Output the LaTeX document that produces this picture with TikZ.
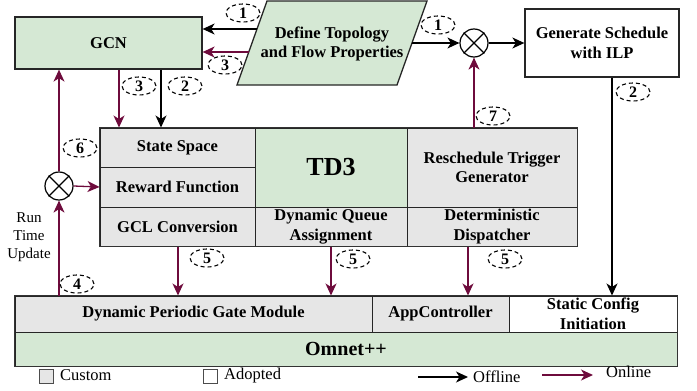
\documentclass[tikz,border=0pt]{standalone}
\usepackage{fontspec}
\setmainfont{Liberation Serif}
\usetikzlibrary{arrows.meta,shapes.geometric}
\definecolor{grn}{HTML}{D5E8D4}
\definecolor{gry}{HTML}{E6E6E6}
\definecolor{mar}{HTML}{6E0B3C}
\begin{document}
\begin{tikzpicture}[x=1pt,y=-1pt,
  cell/.style={draw=black!85, line width=1pt, fill=gry, align=center, inner sep=0pt,
    font=\fontsize{16.5}{19.5}\selectfont\bfseries},
  lbl/.style={draw, dashed, dash pattern=on 4pt off 3pt, ellipse, line width=1.1pt,
    minimum width=34pt, minimum height=18pt, inner sep=0pt, fill=white,
    font=\fontsize{16}{16}\selectfont\bfseries},
  otimes/.style={draw, circle, line width=1.2pt, minimum size=28pt, inner sep=0pt, fill=white},
  arr/.style={-{Stealth[length=12pt,width=11pt,inset=3.5pt]}, line width=1.3pt},
  off/.style={arr, draw=black},
  on/.style={arr, draw=mar},
]
\useasboundingbox (0,0) rectangle (697,391);

% top row
\node[cell, fill=grn, minimum width=187pt, minimum height=52pt, line width=1.3pt] (gcn) at (108.5,43) {GCN};
\draw[line width=1.3pt, draw=black!85, fill=grn] (237,85) -- (267,1) -- (427,1) -- (397,85) -- cycle;
\node[align=center, font=\fontsize{16.5}{19.5}\selectfont\bfseries] (topo) at (332,44) {Define Topology\\and Flow Properties};
\coordinate (t1) at (257,29);
\coordinate (t3) at (249,52);
\coordinate (t2) at (412,43);
\node[otimes] (c1) at (474,43) {};
\draw[line width=1.2pt] (c1.north east) -- (c1.south west) (c1.north west) -- (c1.south east);
\node[cell, fill=white, minimum width=154pt, minimum height=68pt, line width=1.3pt] (ilp) at (602,43) {Generate Schedule\\with ILP};

% middle block
\node[cell, minimum width=155pt, minimum height=39pt] (ss) at (177.5,147.5) {State Space};
\node[cell, minimum width=155pt, minimum height=40pt] (rf) at (177.5,187) {Reward Function};
\node[cell, minimum width=155pt, minimum height=39pt] (gcl) at (177.5,226.5) {GCL Conversion};
\node[cell, fill=grn, minimum width=152pt, minimum height=79pt, font=\fontsize{26}{26}\selectfont\bfseries] (td3) at (331,167.5) {TD3};
\node[cell, minimum width=152pt, minimum height=39pt] (dqa) at (331,226.5) {Dynamic Queue\\Assignment};
\node[cell, minimum width=170pt, minimum height=79pt] (rtg) at (492,167.5) {Reschedule Trigger\\Generator};
\node[cell, minimum width=170pt, minimum height=39pt] (dd) at (492,226.5) {Deterministic\\Dispatcher};
\draw[line width=1.5pt, draw=black!80] (ss.north west) rectangle (dd.south east);

% bottom rows
\node[cell, minimum width=357pt, minimum height=36pt] (dpgm) at (193.5,314) {Dynamic Periodic Gate Module};
\node[cell, minimum width=137pt, minimum height=36pt] (app) at (440.5,314) {AppController};
\node[cell, fill=white, minimum width=168pt, minimum height=36pt] (sci) at (593,314) {Static Config\\Initiation};
\node[cell, fill=grn, minimum width=662pt, minimum height=34pt, font=\fontsize{20}{20}\selectfont\bfseries] (omn) at (346,349) {\raisebox{-5pt}{Omnet++}};
\draw[line width=1.5pt, draw=black!80] (dpgm.north west) rectangle (omn.south east);

% left loop
\node[otimes] (c2) at (59,186) {};
\draw[line width=1.2pt] (c2.north east) -- (c2.south west) (c2.north west) -- (c2.south east);
\node[align=center, font=\fontsize{15}{18}\selectfont] (rtu) at (29,237) {Run\\Time\\Update};

% connectors
\draw[off] (t1) -- (gcn.east |- t1);
\draw[on] (t3) -- (gcn.east |- t3);
\draw[off] (t2) -- (c1.west);
\draw[off] (c1.east) -- (ilp.west);
\draw[on] (gcn.south -| 119,0) -- (ss.north -| 119,0);
\draw[off] (gcn.south -| 161,0) -- (ss.north -| 161,0);
\draw[on] (dpgm.north -| c2) -- (c2.south);
\draw[on] (c2.north) -- (gcn.south -| c2);
\draw[on] (c2.east) -- (rf.west);
\draw[on] (gcl.south -| 178,0) -- (dpgm.north -| 178,0);
\draw[on] (dqa.south) -- (dpgm.north -| dqa.south);
\draw[on] (dd.south -| 468,0) -- (app.north -| 468,0);
\draw[on] (rtg.north -| c1) -- (c1.south);
\draw[off] (ilp.south -| 612,0) -- (sci.north -| 612,0);

% step labels
\node[lbl] (l1a) at (243,13) {1};
\node[lbl] (l3a) at (225,65) {3};
\node[lbl] (l3b) at (139,86) {3};
\node[lbl] (l2a) at (185,86) {2};
\node[lbl] (l1b) at (438,25) {1};
\node[lbl] (l7) at (493,116) {7};
\node[lbl] (l2b) at (633,92) {2};
\node[lbl] (l6) at (80,148) {6};
\node[lbl] (l4) at (77,284) {4};
\node[lbl] (l5a) at (207,258) {5};
\node[lbl] (l5b) at (353,259) {5};
\node[lbl] (l5c) at (505,259) {5};

% legend
\node[draw=black!70, line width=0.9pt, fill=gry, minimum size=14pt, inner sep=0pt] (lg1) at (46.5,376.5) {};
\node[anchor=west, inner sep=0pt, font=\fontsize{16.5}{16.5}\selectfont] (lt1) at (60,375.5) {Custom};
\node[draw=black!70, line width=0.9pt, fill=white, minimum size=14pt, inner sep=0pt] (lg2) at (210,376.5) {};
\node[anchor=west, inner sep=0pt, font=\fontsize{16.5}{16.5}\selectfont] (lt2) at (224,375.5) {Adopted};
\coordinate (la1) at (418,377);
\coordinate (la1e) at (468,377);
\node[anchor=west, inner sep=0pt, font=\fontsize{16.5}{16.5}\selectfont] (lt3) at (473,376.5) {Offline};
\draw[off] (la1) -- (la1e);
\coordinate (la2) at (542,375);
\coordinate (la2e) at (593,375);
\node[anchor=west, inner sep=0pt, font=\fontsize{16.5}{16.5}\selectfont] (lt4) at (606,372) {Online};
\draw[on] (la2) -- (la2e);
\end{tikzpicture}
\end{document}
